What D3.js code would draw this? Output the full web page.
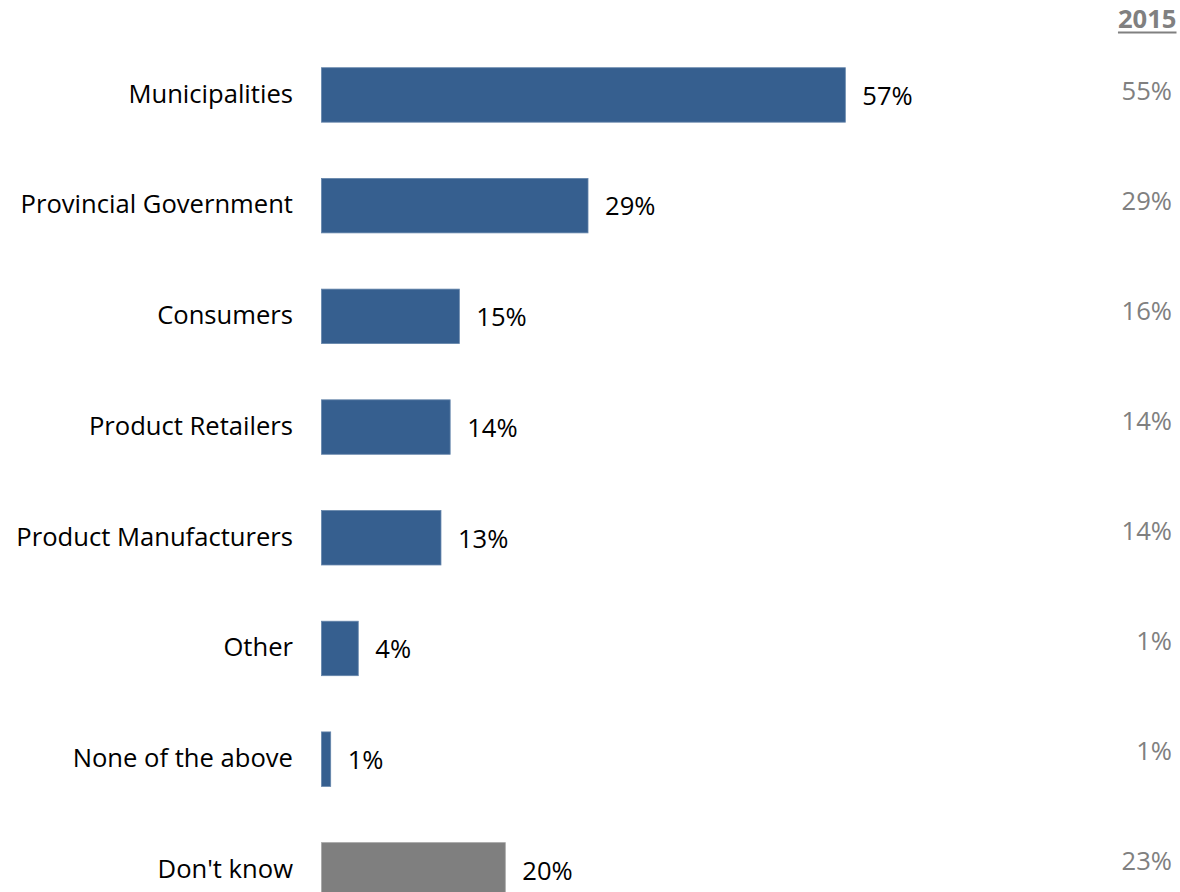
<!DOCTYPE html>
<html>
<head>
<meta charset="utf-8">
<script src="https://cdn.jsdelivr.net/npm/d3@7"></script>
<style>
  html, body { margin: 0; padding: 0; background: #ffffff; }
  svg { display: block; }
  text { font-family: "Open Sans", Lato, sans-serif; }
</style>
</head>
<body>
<svg id="chart" width="1180" height="892"></svg>
<script>
// Survey responses: who should be responsible (current wave vs. 2015)
const categories = [
  "Municipalities",
  "Provincial Government",
  "Consumers",
  "Product Retailers",
  "Product Manufacturers",
  "Other",
  "None of the above",
  "Don't know"
];
const currentValues = [57, 29, 15, 14, 13, 4, 1, 20];
const values2015 = [55, 29, 16, 14, 14, 1, 1, 23];
const priorYearLabel = "2015";

const svg = d3.select("#chart");

const barStart = 321.5;
const pxPerPoint = 9.19;

const x = d3.scaleLinear()
  .domain([0, 100])
  .range([barStart, barStart + 100 * pxPerPoint]);

const y = d3.scaleBand()
  .domain(categories)
  .range([39.6, 925.2])
  .paddingInner(0.508)
  .paddingOuter(0.254);

// Column of prior-year figures on the right
const y2015 = d3.scalePoint()
  .domain(categories)
  .range([100, 870]);

const fontSize = 25.6;

// Bars
svg.append("g")
  .selectAll("rect")
  .data(categories)
  .join("rect")
  .attr("x", x(0))
  .attr("y", d => y(d))
  .attr("width", (d, i) => x(currentValues[i]) - x(0))
  .attr("height", y.bandwidth())
  .attr("fill", d => d === "Don't know" ? "#7f7f7f" : "#365f8f")
  .attr("stroke", d => d === "Don't know" ? "#a6a6a6" : "#6585ab")
  .attr("stroke-width", 0.8);

// Category labels
svg.append("g")
  .selectAll("text")
  .data(categories)
  .join("text")
  .attr("x", barStart - 28.5)
  .attr("y", d => y(d) + y.bandwidth() / 2 + 7.8)
  .attr("text-anchor", "end")
  .attr("font-size", fontSize)
  .attr("fill", "#000000")
  .text(d => d);

// Value labels next to bars
svg.append("g")
  .selectAll("text")
  .data(categories)
  .join("text")
  .attr("x", (d, i) => x(currentValues[i]) + 17)
  .attr("y", d => y(d) + y.bandwidth() / 2 + 9.8)
  .attr("font-size", fontSize)
  .attr("fill", "#000000")
  .text((d, i) => currentValues[i] + "%");

// Prior-year header
const header = svg.append("text")
  .attr("x", 1176.5)
  .attr("y", 28.3)
  .attr("text-anchor", "end")
  .attr("font-size", fontSize)
  .attr("font-weight", "bold")
  .attr("fill", "#808080")
  .text(priorYearLabel);

const hb = header.node().getBBox();
svg.append("line")
  .attr("x1", hb.x)
  .attr("x2", hb.x + hb.width)
  .attr("y1", 32.5)
  .attr("y2", 32.5)
  .attr("stroke", "#808080")
  .attr("stroke-width", 2);

// Prior-year values
svg.append("g")
  .selectAll("text")
  .data(categories)
  .join("text")
  .attr("x", 1172)
  .attr("y", d => y2015(d))
  .attr("text-anchor", "end")
  .attr("font-size", fontSize)
  .attr("fill", "#808080")
  .text((d, i) => values2015[i] + "%");
</script>
</body>
</html>
